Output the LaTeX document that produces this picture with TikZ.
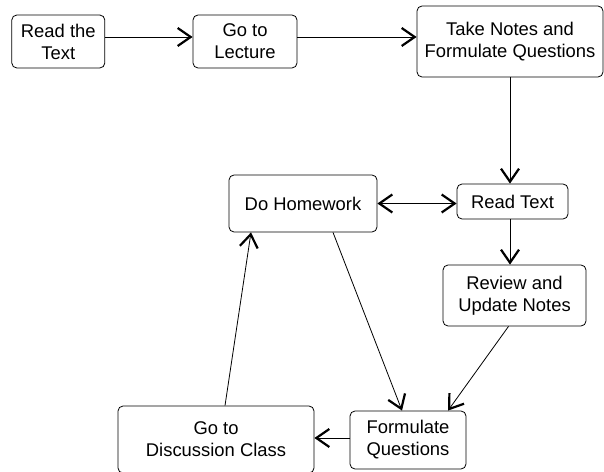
\documentclass[tikz,border=0pt]{standalone}
\usepackage{fontspec}
\setmainfont{Liberation Sans}
\usetikzlibrary{arrows.meta}
\tikzset{stage/.style={draw, line width=0.8bp, rounded corners=5bp, align=center, inner sep=0pt}}
\begin{document}
\begin{tikzpicture}[x=1bp, y=-1bp, line width=0.8bp, line join=round, >={Straight Barb[length=13bp,width=18bp,line width=2.2bp]}, font=\fontsize{18.4bp}{22bp}\selectfont]
	\useasboundingbox (0,0) rectangle (604,472);
	\node[stage, minimum width=93bp, minimum height=53bp] (read) at (58.3,41.5) {Read the\\Text};
	\node[stage, minimum width=104bp, minimum height=53bp] (lecture) at (245,41.5) {Go to\\Lecture};
	\node[stage, minimum width=186bp, minimum height=71bp] (notes) at (510,41.5) {Take Notes and\\Formulate Questions};
	\node[stage, minimum width=148bp, minimum height=57bp] (homework) at (303,203.5) {Do Homework};
	\node[stage, minimum width=111bp, minimum height=35bp] (readtext) at (512.5,201.5) {Read Text};
	\node[stage, minimum width=143bp, minimum height=61bp] (review) at (514.5,295.5) {Review and\\Update Notes};
	\node[stage, minimum width=196bp, minimum height=67bp] (discussion) at (216,439.5) {Go to\\Discussion Class};
	\node[stage, minimum width=116bp, minimum height=58bp] (formulate) at (408,440) {Formulate\\Questions};
	\foreach \a/\b in {read/lecture, lecture/notes}{\draw[->] ([yshift=4.5bp]\a.east)--([yshift=4.5bp]\b.west);}
	\draw[->] ([yshift=2bp]formulate.west)--([yshift=2bp]formulate.west -| discussion.east);
	\draw[->] (notes.south)--(notes.south |- readtext.north);
	\draw[->] (readtext.south -| notes.south)--(review.north -| notes.south);
	\draw[<->] (homework.east)--(homework.east -| readtext.west);
	\draw[->] ([xshift=30bp]homework.south)--([xshift=-6bp]formulate.north);
	\draw[->] ([xshift=-6bp]review.south)--([xshift=40bp]formulate.north);
	\draw[->] ([xshift=9bp]discussion.north)--([xshift=-52bp]homework.south);
\end{tikzpicture}
\end{document}
